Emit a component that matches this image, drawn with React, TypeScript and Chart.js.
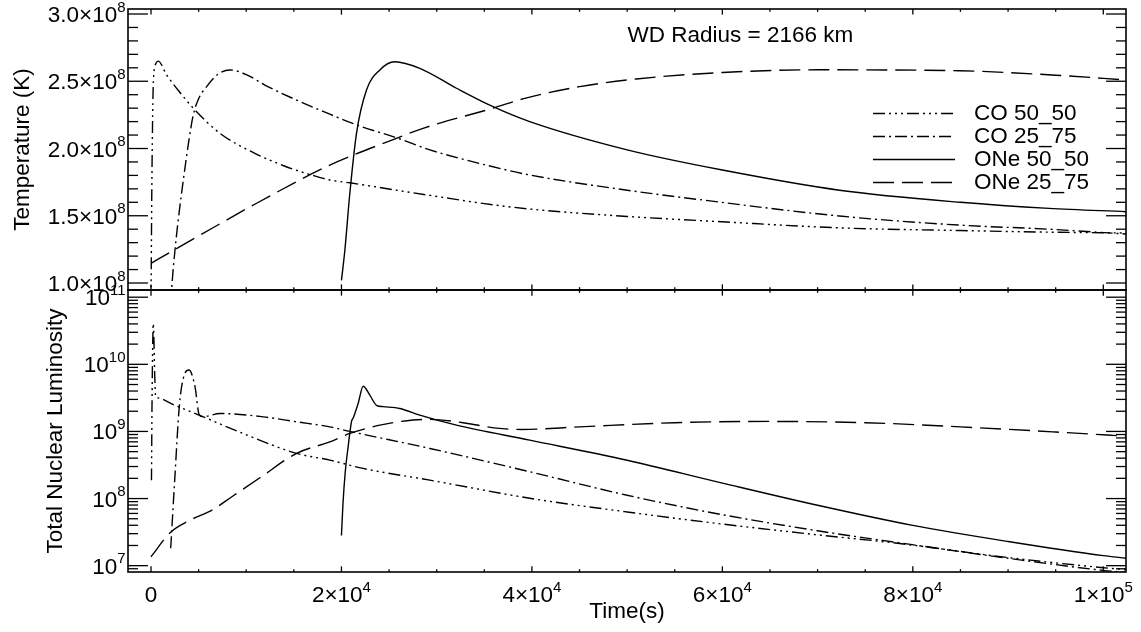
import React, { useEffect, useRef } from "react";
import { Chart, registerables } from "chart.js";

Chart.register(...registerables);

// ---------------- data ----------------
const SERIES_NAMES = ["CO 50_50", "CO 25_75", "ONe 50_50", "ONe 25_75"];
const SERIES_DASH: number[][] = [
  [12, 4, 2, 4, 2, 4, 2, 4],
  [12, 4, 2, 4],
  [],
  [21, 8],
];

// Temperature (K) vs time (s)
const CO5050_T_TIME = [0, 100, 250, 500, 750, 1650, 3000, 4440, 7240, 10910, 14000, 17000, 18780, 20880, 25780, 30330, 35000, 39770, 50000, 60000, 72300, 85000, 94300, 102400];
const CO5050_T_VAL = [0.85e8, 1.8e8, 2.5e8, 2.63e8, 2.65e8, 2.546e8, 2.42e8, 2.3e8, 2.113e8, 1.964e8, 1.87e8, 1.8e8, 1.766e8, 1.745e8, 1.69e8, 1.64e8, 1.59e8, 1.55e8, 1.495e8, 1.455e8, 1.41e8, 1.39e8, 1.378e8, 1.372e8];

const CO2575_T_TIME = [2100, 2170, 2520, 3000, 3500, 4000, 4440, 5000, 5840, 7000, 8290, 10000, 12000, 15290, 18780, 21930, 25780, 29280, 35000, 39770, 50000, 57600, 72300, 85000, 94300, 102400];
const CO2575_T_VAL = [0.85e8, 0.95e8, 1.245e8, 1.55e8, 1.82e8, 2.07e8, 2.25e8, 2.37e8, 2.46e8, 2.55e8, 2.584e8, 2.55e8, 2.47e8, 2.36e8, 2.255e8, 2.167e8, 2.08e8, 1.99e8, 1.88e8, 1.803e8, 1.69e8, 1.62e8, 1.498e8, 1.43e8, 1.4e8, 1.364e8];

const ONE5050_T_TIME = [20000, 20360, 20880, 21580, 22630, 24030, 25600, 28230, 32080, 35920, 39770, 50000, 60000, 72300, 85000, 94300, 102400];
const ONE5050_T_VAL = [1.02e8, 1.245e8, 1.667e8, 2.113e8, 2.435e8, 2.584e8, 2.645e8, 2.596e8, 2.448e8, 2.311e8, 2.2e8, 1.99e8, 1.84e8, 1.69e8, 1.6e8, 1.555e8, 1.53e8];

const ONE2575_T_TIME = [0, 2520, 5000, 11090, 18780, 25780, 28570, 35920, 39250, 45000, 50960, 60000, 70000, 84900, 95000, 102400];
const ONE2575_T_VAL = [1.146e8, 1.25e8, 1.35e8, 1.593e8, 1.877e8, 2.076e8, 2.15e8, 2.3e8, 2.373e8, 2.46e8, 2.517e8, 2.565e8, 2.585e8, 2.578e8, 2.545e8, 2.51e8];

// Total nuclear luminosity vs time (s)
const CO5050_L_TIME = [50, 120, 240, 400, 480, 700, 2500, 5490, 10000, 15290, 18780, 22280, 29280, 39770, 50000, 60000, 70000, 78600, 90000, 100000, 102400];
const CO5050_L_VAL = [1.88e8, 3.98e9, 4.05e10, 6.3e9, 3.31e9, 3.16e9, 2.45e9, 1.65e9, 8.91e8, 4.71e8, 3.74e8, 2.81e8, 1.88e8, 1.01e8, 6.31e7, 4.17e7, 2.88e7, 2.14e7, 1.32e7, 9.33e6, 8.71e6];

const CO2575_L_TIME = [2070, 2500, 2970, 3390, 3990, 4620, 5070, 5500, 7240, 11780, 15290, 18780, 20880, 29280, 39770, 50000, 60000, 70000, 78600, 90000, 100000, 102400];
const CO2575_L_VAL = [1.82e7, 2.0e8, 2.34e9, 6.17e9, 8.22e9, 4.65e9, 1.76e9, 1.66e9, 1.85e9, 1.65e9, 1.39e9, 1.17e9, 1.0e9, 5.58e8, 2.51e8, 1.12e8, 5.75e7, 3.31e7, 2.19e7, 1.29e7, 8.51e6, 7.94e6];

const ONE5050_L_TIME = [20000, 20150, 20400, 20700, 21060, 21230, 21760, 22280, 22980, 23680, 24380, 26130, 28230, 32080, 39770, 50000, 60000, 70000, 80000, 90000, 100000, 102400];
const ONE5050_L_VAL = [2.82e7, 7.94e7, 2.51e8, 5.89e8, 1.41e9, 1.58e9, 2.63e9, 4.72e9, 3.47e9, 2.45e9, 2.34e9, 2.2e9, 1.75e9, 1.24e9, 7.41e8, 3.72e8, 1.7e8, 7.94e7, 3.98e7, 2.29e7, 1.41e7, 1.29e7];

const ONE2575_L_TIME = [0, 2070, 4000, 6540, 8640, 11440, 15290, 18780, 20880, 24030, 27520, 29280, 32780, 36280, 38900, 45000, 55000, 65000, 75000, 85000, 95000, 102400];
const ONE2575_L_VAL = [1.36e7, 3.16e7, 4.68e7, 6.92e7, 1.1e8, 2.04e8, 4.71e8, 7.0e8, 9.33e8, 1.24e9, 1.48e9, 1.51e9, 1.35e9, 1.12e9, 1.07e9, 1.17e9, 1.35e9, 1.41e9, 1.35e9, 1.17e9, 9.8e8, 8.5e8];

// ---------------- axes / ticks ----------------
const X_MIN = -2415;
const X_MAX = 102385;
const X_MAJOR = [0, 20000, 40000, 60000, 80000, 100000];
const X_MAJOR_LABELS: string[][] = [["0", ""], ["2×10", "4"], ["4×10", "4"], ["6×10", "4"], ["8×10", "4"], ["1×10", "5"]];
const X_MINOR_STEP = 5000;

const T_MIN = 0.948e8;
const T_MAX = 3.0372e8;
const T_MAJOR = [1.0e8, 1.5e8, 2.0e8, 2.5e8, 3.0e8];
const T_MAJOR_LABELS: string[][] = [["1.0×10", "8"], ["1.5×10", "8"], ["2.0×10", "8"], ["2.5×10", "8"], ["3.0×10", "8"]];
const T_MINOR_STEP = 1e7;

const L_MIN = 8.05e6;
const L_MAX = 1.28e11;
const L_MAJOR = [1e7, 1e8, 1e9, 1e10, 1e11];
const L_MAJOR_LABELS: string[][] = [["10", "7"], ["10", "8"], ["10", "9"], ["10", "10"], ["10", "11"]];

const TITLE_TOP_Y = "Temperature (K)";
const TITLE_BOTTOM_Y = "Total Nuclear Luminosity";
const TITLE_X = "Time(s)";
const ANNOTATION = "WD Radius = 2166 km";

// ---------------- layout ----------------
const W = 1141;
const H = 632;
const FONT = '"Liberation Sans", Arial, Helvetica, sans-serif';
const BASE_PX = 22.5;
const SUP_PX = 15;

const pts = (t: number[], v: number[]) => t.map((x, i) => ({ x, y: v[i] }));

function makeDatasets(series: { t: number[]; v: number[] }[]) {
  return series.map((s, i) => ({
    label: SERIES_NAMES[i],
    data: pts(s.t, s.v),
    borderColor: "#000",
    backgroundColor: "#000",
    borderWidth: 1.4,
    borderDash: SERIES_DASH[i],
    borderJoinStyle: "round",
    pointRadius: 0,
    fill: false,
    cubicInterpolationMode: "monotone",
  }));
}

function drawSci(ctx: CanvasRenderingContext2D, base: string, sup: string, x: number, y: number, align: "right" | "center") {
  ctx.font = `${BASE_PX}px ${FONT}`;
  const wb = ctx.measureText(base).width;
  ctx.font = `${SUP_PX}px ${FONT}`;
  const ws = sup ? ctx.measureText(sup).width : 0;
  const total = wb + ws;
  const x0 = align === "right" ? x - total : x - total / 2;
  ctx.textAlign = "left";
  ctx.textBaseline = "alphabetic";
  ctx.font = `${BASE_PX}px ${FONT}`;
  ctx.fillText(base, x0, y + 8);
  if (sup) {
    ctx.font = `${SUP_PX}px ${FONT}`;
    ctx.fillText(sup, x0 + wb, y - 2.5);
  }
}

function seg(ctx: CanvasRenderingContext2D, x1: number, y1: number, x2: number, y2: number) {
  ctx.beginPath();
  ctx.moveTo(x1, y1);
  ctx.lineTo(x2, y2);
  ctx.stroke();
}

function framePlugin(panel: "top" | "bottom") {
  return {
    id: "frame_" + panel,
    afterDraw(chart: any) {
      const ctx: CanvasRenderingContext2D = chart.ctx;
      const a = chart.chartArea;
      const xs = chart.scales.x;
      const ys = chart.scales.y;
      ctx.save();
      ctx.setLineDash([]);
      ctx.strokeStyle = "#000";
      ctx.fillStyle = "#000";

      // frame
      ctx.lineWidth = 1.6;
      ctx.strokeRect(a.left, a.top, a.right - a.left, a.bottom - a.top);

      // x ticks (top & bottom edges, inward)
      ctx.lineWidth = 1.3;
      const xLen = 0.02 * (a.bottom - a.top);
      for (let t = 0; t <= X_MAJOR[X_MAJOR.length - 1]; t += X_MINOR_STEP) {
        const px = xs.getPixelForValue(t);
        const len = X_MAJOR.includes(t) ? xLen : xLen / 2;
        seg(ctx, px, a.top, px, a.top + len);
        seg(ctx, px, a.bottom, px, a.bottom - len);
      }

      // y ticks (left & right edges, inward)
      const yLen = 0.02 * (a.right - a.left);
      const yTick = (v: number, major: boolean) => {
        const py = ys.getPixelForValue(v);
        const len = major ? yLen : yLen / 2;
        seg(ctx, a.left, py, a.left + len, py);
        seg(ctx, a.right, py, a.right - len, py);
      };
      if (panel === "top") {
        for (let k = Math.ceil(T_MIN / T_MINOR_STEP); k * T_MINOR_STEP <= T_MAX; k++) {
          const v = k * T_MINOR_STEP;
          yTick(v, T_MAJOR.some((m) => Math.abs(m - v) < 1));
        }
      } else {
        for (let e = 6; e <= 11; e++) {
          for (let m = 1; m <= 9; m++) {
            const v = m * Math.pow(10, e);
            if (v >= L_MIN && v <= L_MAX) yTick(v, m === 1);
          }
        }
      }

      // y tick labels
      const labelRight = a.left - 2.5;
      if (panel === "top") {
        T_MAJOR.forEach((v, i) => drawSci(ctx, T_MAJOR_LABELS[i][0], T_MAJOR_LABELS[i][1], labelRight, ys.getPixelForValue(v), "right"));
      } else {
        L_MAJOR.forEach((v, i) => drawSci(ctx, L_MAJOR_LABELS[i][0], L_MAJOR_LABELS[i][1], labelRight, ys.getPixelForValue(v), "right"));
      }

      // y title
      ctx.font = `${BASE_PX}px ${FONT}`;
      ctx.textAlign = "center";
      ctx.textBaseline = "alphabetic";
      const cy = (a.top + a.bottom) / 2;
      ctx.save();
      ctx.translate(panel === "top" ? 28.5 : 61.5, cy);
      ctx.rotate(-Math.PI / 2);
      ctx.fillText(panel === "top" ? TITLE_TOP_Y : TITLE_BOTTOM_Y, 0, 0);
      ctx.restore();

      if (panel === "top") {
        // annotation
        ctx.font = `${BASE_PX}px ${FONT}`;
        ctx.textAlign = "left";
        ctx.textBaseline = "alphabetic";
        ctx.fillText(ANNOTATION, 627.5, 41.5);

        // legend
        const lx1 = 873;
        const lx2 = 955;
        SERIES_NAMES.forEach((name, i) => {
          const ly = 113.5 + 23 * i;
          ctx.lineWidth = 1.4;
          ctx.setLineDash(SERIES_DASH[i]);
          seg(ctx, lx1, ly, lx2, ly);
          ctx.setLineDash([]);
          ctx.font = `${BASE_PX}px ${FONT}`;
          ctx.textAlign = "left";
          ctx.fillText(name, 974, ly + 6.5);
        });
      } else {
        // x tick labels
        X_MAJOR.forEach((t, i) => drawSci(ctx, X_MAJOR_LABELS[i][0], X_MAJOR_LABELS[i][1], xs.getPixelForValue(t), 594, "center"));
        // x title
        ctx.font = `${BASE_PX}px ${FONT}`;
        ctx.textAlign = "center";
        ctx.textBaseline = "alphabetic";
        ctx.fillText(TITLE_X, (a.left + a.right) / 2, 618);
      }
      ctx.restore();
    },
  };
}

function makeChart(canvas: HTMLCanvasElement, panel: "top" | "bottom") {
  const top = panel === "top";
  const datasets = top
    ? makeDatasets([
        { t: CO5050_T_TIME, v: CO5050_T_VAL },
        { t: CO2575_T_TIME, v: CO2575_T_VAL },
        { t: ONE5050_T_TIME, v: ONE5050_T_VAL },
        { t: ONE2575_T_TIME, v: ONE2575_T_VAL },
      ])
    : makeDatasets([
        { t: CO5050_L_TIME, v: CO5050_L_VAL },
        { t: CO2575_L_TIME, v: CO2575_L_VAL },
        { t: ONE5050_L_TIME, v: ONE5050_L_VAL },
        { t: ONE2575_L_TIME, v: ONE2575_L_VAL },
      ]);
  return new Chart(canvas, {
    type: "line",
    data: { datasets: datasets as any },
    options: {
      responsive: false,
      maintainAspectRatio: false,
      animation: false,
      devicePixelRatio: 1,
      events: [],
      layout: {
        padding: top
          ? { left: 128, right: 15, top: 9, bottom: 342 }
          : { left: 128, right: 15, top: 290, bottom: 60 },
      },
      plugins: { legend: { display: false }, tooltip: { enabled: false } },
      scales: {
        x: { type: "linear", min: X_MIN, max: X_MAX, display: false },
        y: top
          ? { type: "linear", min: T_MIN, max: T_MAX, display: false }
          : { type: "logarithmic", min: L_MIN, max: L_MAX, display: false },
      },
    } as any,
    plugins: [framePlugin(panel)],
  });
}

export default function App() {
  const topRef = useRef<HTMLCanvasElement>(null);
  const botRef = useRef<HTMLCanvasElement>(null);
  useEffect(() => {
    const c1 = makeChart(topRef.current!, "top");
    const c2 = makeChart(botRef.current!, "bottom");
    return () => {
      c1.destroy();
      c2.destroy();
    };
  }, []);
  const cs: React.CSSProperties = { position: "absolute", left: 0, top: 0, width: W, height: H };
  return (
    <div style={{ position: "absolute", left: 0, top: 0, width: W, height: H, background: "#fff" }}>
      <canvas ref={topRef} width={W} height={H} style={cs} />
      <canvas ref={botRef} width={W} height={H} style={cs} />
    </div>
  );
}
